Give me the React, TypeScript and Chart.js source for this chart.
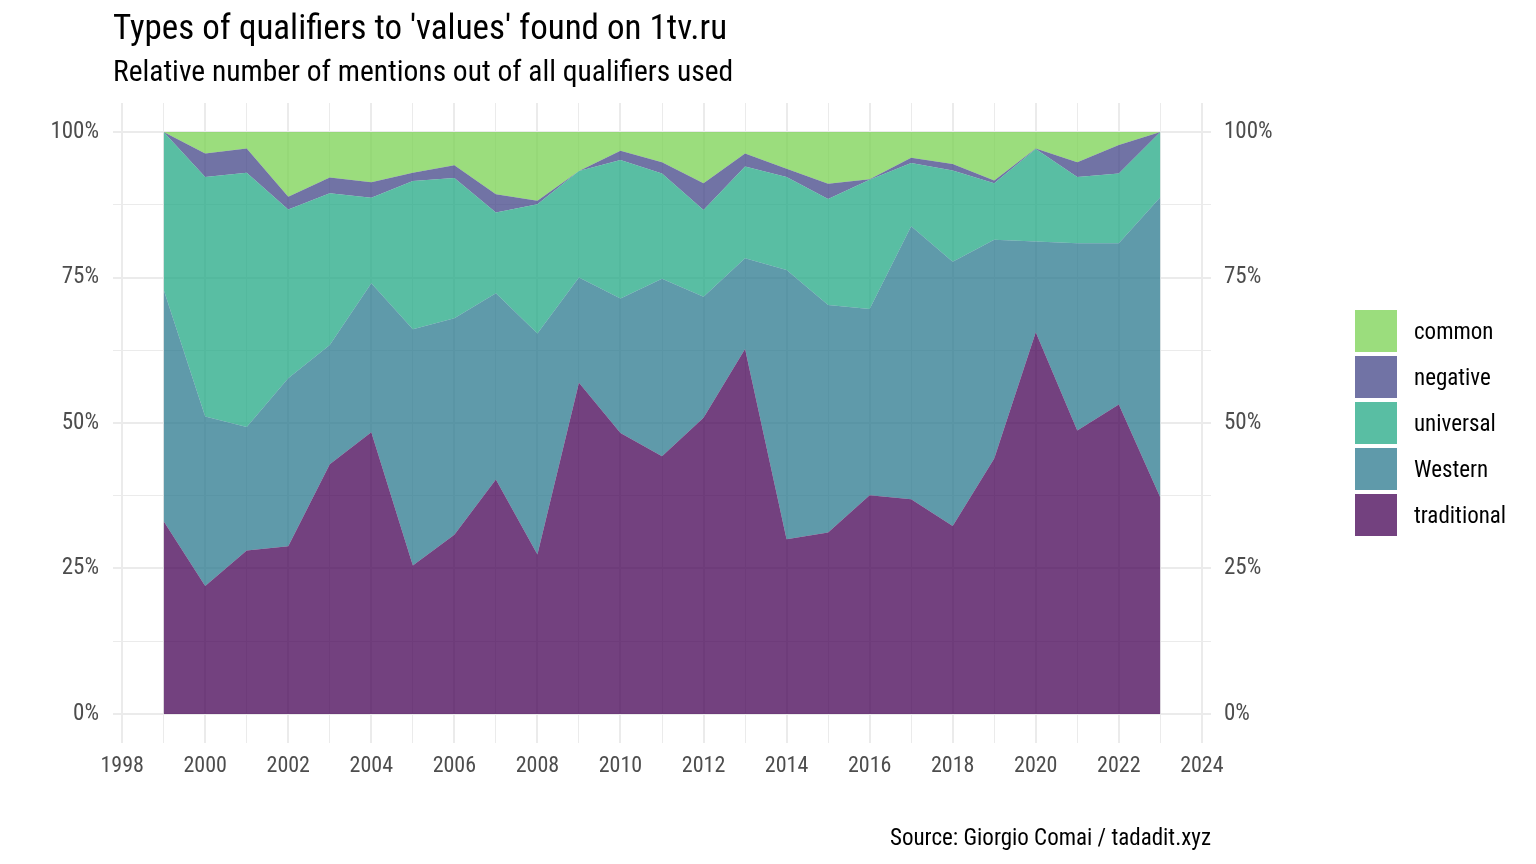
import { useEffect, useRef } from "react";
import { Chart, registerables } from "chart.js";

Chart.register(...registerables);

const FONT = "'Roboto Condensed', 'Liberation Sans Narrow', 'DejaVu Sans Condensed', Roboto, sans-serif";

const years = [
  1999, 2000, 2001, 2002, 2003, 2004, 2005, 2006, 2007, 2008, 2009, 2010, 2011,
  2012, 2013, 2014, 2015, 2016, 2017, 2018, 2019, 2020, 2021, 2022, 2023,
];

// shares in percent, bottom to top
const traditional = [
  33.1, 22.0, 28.1, 28.8, 42.9, 48.4, 25.5, 30.8, 40.3, 27.4, 56.9, 48.3, 44.3,
  50.9, 62.7, 30.0, 31.2, 37.6, 36.9, 32.3, 43.9, 65.6, 48.7, 53.2, 37.2,
];
const western = [
  39.8, 29.1, 21.2, 28.9, 20.5, 25.6, 40.6, 37.2, 32.0, 38.0, 18.1, 23.1, 30.5,
  20.8, 15.6, 46.3, 39.1, 32.0, 46.9, 45.4, 37.6, 15.6, 32.2, 27.7, 51.6,
];
const universal = [
  27.1, 41.2, 43.7, 29.0, 26.1, 14.7, 25.5, 24.1, 13.9, 22.2, 18.3, 23.8, 18.1,
  14.9, 15.8, 16.0, 18.2, 22.2, 10.9, 15.7, 9.7, 15.9, 11.4, 12.0, 11.2,
];
const negative = [
  0.0, 4.0, 4.2, 2.2, 2.7, 2.7, 1.4, 2.2, 3.1, 0.6, 0.0, 1.6, 1.9,
  4.6, 2.2, 1.4, 2.6, 0.1, 0.9, 1.1, 0.5, 0.1, 2.5, 4.9, 0.0,
];
const common = [
  0.0, 3.7, 2.8, 11.1, 7.8, 8.6, 7.0, 5.7, 10.7, 11.8, 6.7, 3.2, 5.2,
  8.8, 3.7, 6.3, 8.9, 8.1, 4.4, 5.5, 8.3, 2.8, 5.2, 2.2, 0.0,
];

const xTicks = [
  1998, 1999, 2000, 2001, 2002, 2003, 2004, 2005, 2006, 2007, 2008, 2009, 2010,
  2011, 2012, 2013, 2014, 2015, 2016, 2017, 2018, 2019, 2020, 2021, 2022, 2023, 2024,
];
const yTicks = [0, 12.5, 25, 37.5, 50, 62.5, 75, 87.5, 100];

const series = [
  { label: "traditional", values: traditional, color: "rgba(68,1,84,0.75)" },
  { label: "Western", values: western, color: "rgba(42,120,142,0.75)" },
  { label: "universal", values: universal, color: "rgba(34,168,132,0.75)" },
  { label: "negative", values: negative, color: "rgba(65,68,135,0.75)" },
  { label: "common", values: common, color: "rgba(122,209,81,0.75)" },
];

const GRID = "#ebebeb";

export default function App() {
  const ref = useRef<HTMLCanvasElement | null>(null);

  useEffect(() => {
    if (!ref.current) return;
    const yAxis = (position: "left" | "right", width: number, pad: number) => ({
      type: "linear" as const,
      position,
      stacked: true,
      min: -5,
      max: 105,
      border: { display: false },
      grid: {
        display: position === "left",
        drawTicks: false,
        color: GRID,
        lineWidth: (c: any) => (c.tick && c.tick.value % 25 === 0 ? 2 : 1),
      },
      ticks: {
        padding: pad,
        color: "#4d4d4d",
        font: { family: FONT, size: 23 },
        callback: (v: any) => (Number(v) % 25 === 0 ? v + "%" : ""),
      },
      afterBuildTicks: (s: any) => {
        s.ticks = yTicks.map((v) => ({ value: v }));
      },
      afterFit: (s: any) => {
        s.width = width;
      },
    });

    const chart = new Chart(ref.current, {
      type: "line",
      data: {
        datasets: series.map((s, i) => ({
          label: s.label,
          data: s.values.map((v, j) => ({ x: years[j], y: v })),
          backgroundColor: s.color,
          borderWidth: 0,
          pointRadius: 0,
          tension: 0,
          fill: i === 0 ? "origin" : "-1",
        })),
      },
      options: {
        responsive: false,
        animation: false,
        layout: { padding: { left: 0, top: 103, right: 245, bottom: 71 } },
        plugins: {
          legend: { display: false },
          tooltip: { enabled: false },
        },
        scales: {
          x: {
            type: "linear",
            min: 1997.78,
            max: 2024.22,
            border: { display: false },
            grid: {
              drawTicks: false,
              color: GRID,
              lineWidth: (c: any) => (c.tick && c.tick.value % 2 === 0 ? 2 : 1),
            },
            ticks: {
              padding: 10,
              autoSkip: false,
              maxRotation: 0,
              color: "#4d4d4d",
              font: { family: FONT, size: 22 },
              callback: (v: any) => (Number(v) % 2 === 0 ? String(v) : ""),
            },
            afterBuildTicks: (s: any) => {
              s.ticks = xTicks.map((v) => ({ value: v }));
            },
            afterFit: (s: any) => {
              s.height = 50;
            },
          },
          y: yAxis("left", 113, 14),
          y2: yAxis("right", 80, 13),
        },
      },
    });
    return () => chart.destroy();
  }, []);

  const legendItems = [...series].reverse();

  return (
    <div
      style={{
        position: "fixed",
        left: 0,
        top: 0,
        width: 1536,
        height: 864,
        background: "#fff",
        fontFamily: FONT,
      }}
    >
      <canvas
        ref={ref}
        width={1536}
        height={864}
        style={{ position: "absolute", left: 0, top: 0, width: 1536, height: 864 }}
      />
      <div
        style={{
          position: "absolute",
          left: 113,
          top: 10,
          fontSize: 35,
          lineHeight: 1,
          color: "#000",
          whiteSpace: "nowrap",
        }}
      >
        Types of qualifiers to 'values' found on 1tv.ru
      </div>
      <div
        style={{
          position: "absolute",
          left: 113,
          top: 57,
          fontSize: 29.5,
          lineHeight: 1,
          color: "#000",
          whiteSpace: "nowrap",
        }}
      >
        Relative number of mentions out of all qualifiers used
      </div>
      <div
        style={{
          position: "absolute",
          right: 325,
          top: 826,
          fontSize: 23,
          lineHeight: 1,
          color: "#000",
          whiteSpace: "nowrap",
        }}
      >
        Source: Giorgio Comai / tadadit.xyz
      </div>
      <div style={{ position: "absolute", left: 1355, top: 310 }}>
        {legendItems.map((s) => (
          <div
            key={s.label}
            style={{ display: "flex", alignItems: "center", height: 42, marginBottom: 4 }}
          >
            <div style={{ width: 42, height: 42, background: s.color }} />
            <div style={{ marginLeft: 17, fontSize: 23, color: "#000", whiteSpace: "nowrap" }}>
              {s.label}
            </div>
          </div>
        ))}
      </div>
    </div>
  );
}
